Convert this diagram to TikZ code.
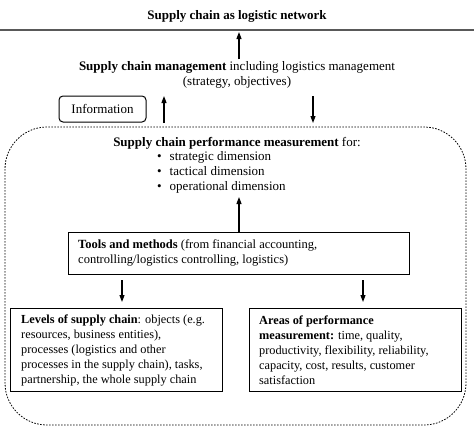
\documentclass[tikz,border=0pt]{standalone}
\usepackage{fontspec}
\setmainfont{Liberation Serif}
\usetikzlibrary{arrows.meta}
\begin{document}
\begin{tikzpicture}[x=1pt,y=-1pt,
  font=\fontsize{13}{15}\selectfont,
  arr/.style={-{Triangle[length=7pt,width=5pt]}, line width=1.1pt},
  box/.style={draw, line width=1.1pt, anchor=north west, inner sep=0pt},
  boxtext/.style={anchor=west, align=left, inner sep=0pt, font=\fontsize{12.3}{15}\selectfont},
  dashbox/.style={draw, line width=0.8pt, dash pattern=on 1.6pt off 1.4pt, rounded corners=42pt}]
\useasboundingbox (0,0) rectangle (474,439);
\node[font=\fontsize{13}{15}\selectfont\bfseries] (title) at (237,16) {Supply chain as logistic network};
\draw[line width=1.3pt, black!65] (0,30) -- (474,30);
\coordinate (topline) at (239,32);
\node[align=center, inner sep=1pt] (scm) at (237,75) {\textbf{Supply chain management} including logistics management\\(strategy, objectives)};
\draw[arr] (scm.north -| topline) ++(0,-1) coordinate (scmtop) -- (topline);
\node[draw, line width=1pt, rounded corners=4pt, minimum width=87pt, minimum height=26pt, inner sep=0pt] (info) at (102.5,109) {Information};
\draw[dashbox] (5,127) rectangle (466,425);
\coordinate (upA) at (164,123);
\coordinate (upB) at (164,96);
\coordinate (dnA) at (313,96);
\coordinate (dnB) at (313,123);
\draw[arr] (upA) -- (upB);
\draw[arr] (dnA) -- (dnB);
\node[inner sep=1pt] (scpm) at (237,143) {\textbf{Supply chain performance measurement} for:};
\node[anchor=north west, align=left, inner sep=0pt] (dims) at (157,151) {\textbullet\hspace{8pt}strategic dimension\\ \textbullet\hspace{8pt}tactical dimension\\ \textbullet\hspace{8pt}operational dimension};
\node[box, minimum width=341pt, minimum height=42pt] (tools) at (68,232) {};
\node[boxtext, font=\fontsize{12.5}{15}\selectfont] (toolstext) at (78,253) {\textbf{Tools and methods} (from financial accounting,\\controlling/logistics controlling, logistics)};
\draw[arr] (tools.north -| topline) -- ++(0,-35) coordinate (dimsbot);
\node[box, minimum width=212pt, minimum height=83pt] (levels) at (10,308) {};
\node[boxtext] (levelstext) at (21,350) {\textbf{Levels of supply chain}: objects (e.g.\\resources, business entities),\\processes (logistics and other\\processes in the supply chain), tasks,\\partnership, the whole supply chain};
\node[box, minimum width=212pt, minimum height=83pt] (areas) at (249,308) {};
\node[boxtext] (areastext) at (259,350) {\textbf{Areas of performance}\\\textbf{measurement:} time, quality,\\productivity, flexibility, reliability,\\capacity, cost, results, customer\\satisfaction};
\coordinate (lx) at (122,0);
\coordinate (rx) at (363,0);
\draw[arr, shorten <=5pt, shorten >=6pt] (tools.south -| lx) -- (levels.north -| lx);
\draw[arr, shorten <=5pt, shorten >=6pt] (tools.south -| rx) -- (areas.north -| rx);
\end{tikzpicture}
\end{document}
